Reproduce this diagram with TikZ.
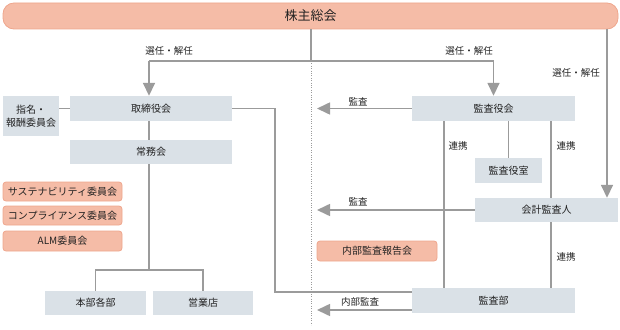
\documentclass[tikz,border=0pt]{standalone}
\usepackage{fontspec}
\setmainfont{Noto Sans CJK JP}
\usetikzlibrary{arrows.meta}
\definecolor{orf}{HTML}{F5BCA7}
\definecolor{ord}{HTML}{EFA68D}
\definecolor{gboxc}{HTML}{DAE1E7}
\definecolor{lnc}{HTML}{9B9B9B}
\definecolor{txc}{HTML}{222222}
\begin{document}
\begin{tikzpicture}[x=1pt,y=-1pt,
  gbox/.style={fill=gboxc, inner sep=0pt, text=txc, font=\fontsize{10}{12.5}\selectfont},
  obox/.style={fill=orf, draw=ord, line width=0.8pt, rounded corners=3pt, inner sep=0pt, text=txc, font=\fontsize{10}{12}\selectfont},
  conn/.style={draw=lnc, line width=1.6pt},
  arr/.style={conn, -{Triangle[length=13pt,width=12pt]}},
  lbl/.style={inner sep=0pt, text=txc, font=\fontsize{9.5}{11}\selectfont},
  dotline/.style={draw=lnc, line width=0.8pt, dash pattern=on 0.8pt off 1.6pt}]
\useasboundingbox (0,0) rectangle (620,329);
% boxes
\node[fill=orf, draw=ord, line width=0.8pt, rounded corners=11pt, inner sep=0pt, minimum width=615pt, minimum height=26pt, text=txc, font=\fontsize{13}{14}\selectfont] (bar) at (310.5,16) {株主総会};
\node[gbox, minimum width=162pt, minimum height=25pt] (tori) at (151,108.5) {取締役会};
\node[gbox, minimum width=56pt, minimum height=40pt, align=center] (shimei) at (31,116) {指名・\\報酬委員会};
\node[gbox, minimum width=162pt, minimum height=24pt] (jomu) at (151,152) {常務会};
\node[gbox, minimum width=101pt, minimum height=24pt] (honbu) at (95.5,303) {本部各部};
\node[gbox, minimum width=100pt, minimum height=24pt] (eigyo) at (203,303) {営業店};
\node[obox, minimum width=119pt, minimum height=19pt] (sus) at (62.5,191.5) {サステナビリティ委員会};
\node[obox, minimum width=119pt, minimum height=19pt] (comp) at (62.5,215.5) {コンプライアンス委員会};
\node[obox, minimum width=119pt, minimum height=20pt] (alm) at (62.5,241) {ALM委員会};
\node[gbox, minimum width=163pt, minimum height=25pt] (kyk) at (493.5,108.5) {監査役会};
\node[gbox, minimum width=67pt, minimum height=25pt] (shitsu) at (508.5,170.5) {監査役室};
\node[gbox, minimum width=143pt, minimum height=24pt] (kaikei) at (546.5,210) {会計監査人};
\node[obox, minimum width=120pt, minimum height=20pt] (hok) at (377,251) {内部監査報告会};
\node[gbox, minimum width=163pt, minimum height=25pt] (kbu) at (493.5,300.5) {監査部};
% coordinates
\coordinate (j) at (311,61);
\coordinate (tj) at (149,61);
\coordinate (kj) at (493.5,61);
\coordinate (cx) at (607,0);
\coordinate (br) at (149,270);
\coordinate (tk) at (275,292);
\coordinate (dl) at (317,0);
\coordinate (v1) at (444,0);
\coordinate (v3) at (551,0);
\coordinate (iy) at (0,310);
\coordinate (dend) at (311,325);
% dotted divider
\draw[dotline] (j) -- (dend);
% connectors
\draw[conn] (bar.south -| j) -- (j);
\draw[conn] (tj) -- (kj);
\draw[arr] (tj) -- (tj |- tori.north);
\draw[arr] (kj) -- (kyk.north);
\draw[arr] (bar.south -| cx) -- (kaikei.north -| cx);
\draw[conn] (tori.west) -- (tori.west -| shimei.east);
\draw[conn] (tj |- tori.south) -- (tj |- jomu.north);
\draw[conn] (tj |- jomu.south) -- (br);
\draw[conn] (honbu.north) |- (br) -| (eigyo.north);
\draw[conn] (tori.east) -| (tk) -- (tk -| kbu.west);
\draw[arr] (kyk.west) -- (kyk.west -| dl);
\draw[conn] (v1 |- kyk.south) -- (v1 |- kbu.north);
\draw[arr] (kaikei.west) -- (kaikei.west -| dl);
\draw[arr] (kbu.west |- iy) -- (dl |- iy);
\draw[conn] (shitsu.north |- kyk.south) -- (shitsu.north);
\draw[conn] (v3 |- kyk.south) -- (v3 |- kaikei.north);
\draw[conn] (v3 |- kaikei.south) -- (v3 |- kbu.north);
% labels
\node[lbl] (l1) at (169,51) {選任・解任};
\node[lbl] (l2) at (469,51) {選任・解任};
\node[lbl] (l3) at (576,73) {選任・解任};
\node[lbl] (l4) at (358,102) {監査};
\node[lbl] (l5) at (358,202) {監査};
\node[lbl] (l6) at (360,302) {内部監査};
\node[lbl] (l7) at (458,146) {連携};
\node[lbl] (l8) at (566,146) {連携};
\node[lbl] (l9) at (566,257) {連携};
\end{tikzpicture}
\end{document}
